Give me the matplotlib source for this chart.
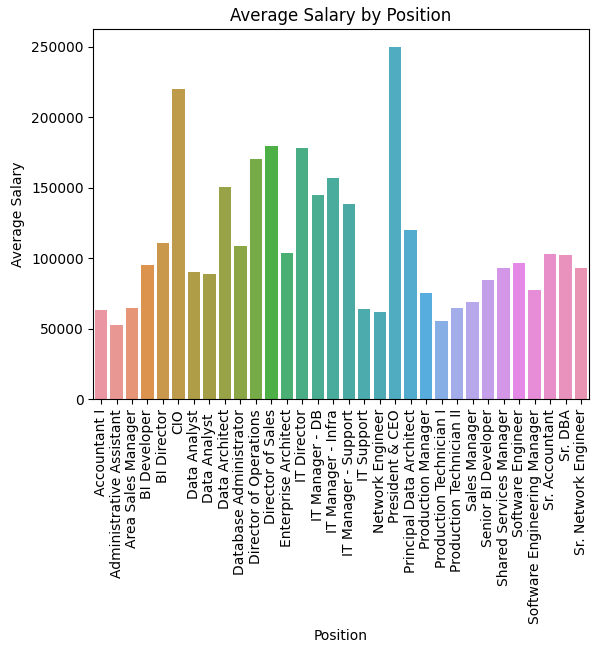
import numpy as np
import matplotlib
matplotlib.use("Agg")
import matplotlib.pyplot as plt
import seaborn as sns

#---data---#
positions = ['Accountant I', 'Administrative Assistant', 'Area Sales Manager',
             'BI Developer', 'BI Director', 'CIO', 'Data Analyst', 'Data Analyst ',
             'Data Architect', 'Database Administrator', 'Director of Operations',
             'Director of Sales', 'Enterprise Architect', 'IT Director',
             'IT Manager - DB', 'IT Manager - Infra', 'IT Manager - Support',
             'IT Support', 'Network Engineer', 'President & CEO',
             'Principal Data Architect', 'Production Manager',
             'Production Technician I', 'Production Technician II', 'Sales Manager',
             'Senior BI Developer', 'Shared Services Manager', 'Software Engineer',
             'Software Engineering Manager', 'Sr. Accountant', 'Sr. DBA',
             'Sr. Network Engineer']
avg_salary = [63400, 52800, 65100, 95400, 111000, 220400, 90400, 89000,
              150800, 108900, 170700, 179900, 103900, 178500, 145100, 157200,
              138700, 64200, 62000, 250000, 120300, 75500, 55600, 64900,
              69100, 84800, 93300, 96800, 77650, 103200, 102500, 93300]

#---colors like old seaborn barplot (husl, desaturated)---#
pal = sns.husl_palette(len(positions), l=.7)
colors = [sns.desaturate(c, 0.75) for c in pal]

fig = plt.figure(figsize=(5.98, 6.53), dpi=100)
ax = fig.add_axes([0.156, 0.3885, 0.8285, 0.5666])

x = np.arange(len(positions))
ax.bar(x, avg_salary, width=0.8, color=colors)
ax.set_xlim(-0.5, len(positions) - 0.5)
ax.set_xticks(x)
ax.set_xticklabels(positions, rotation=90)
ax.set_xlabel('Position')
ax.set_ylabel('Average Salary')
ax.set_title('Average Salary by Position')

fig.savefig('out.png', dpi=100)
